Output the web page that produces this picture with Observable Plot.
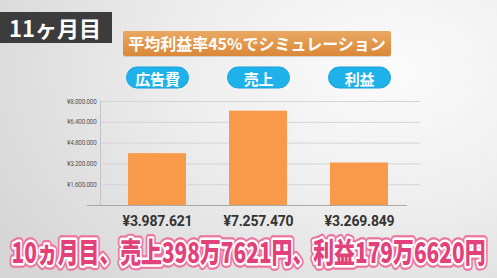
<!DOCTYPE html>
<html><head><meta charset="utf-8">
<script src="https://cdn.jsdelivr.net/npm/d3@7"></script>
<script src="https://cdn.jsdelivr.net/npm/@observablehq/plot@0.6"></script>
<style>
html,body{margin:0;padding:0;}
body{width:497px;height:278px;overflow:hidden;position:relative;
 background: radial-gradient(ellipse 90% 110% at 78% 25%, #fbfbfb 0%, #eeeeee 45%, #d6d6d6 100%);
 font-family:"Noto Sans CJK JP","Noto Sans",sans-serif;}
#month{position:absolute;left:0;top:12px;width:112px;height:31px;background:#3c3c3c;color:#fff;
 font-weight:bold;font-size:22px;line-height:31px;padding-left:9px;box-sizing:border-box;}
#title{position:absolute;left:123px;top:31px;width:268px;height:25px;
 background:linear-gradient(#eaa862,#d98838);border-radius:2px;color:#fff;font-weight:bold;font-size:16px;
 line-height:25px;text-align:center;box-shadow:0 1px 1px rgba(0,0,0,0.15);}
#chart{position:absolute;left:0;top:0;}
#cap{position:absolute;left:0;top:218px;}
#cap text{font-family:"Noto Sans CJK JP",sans-serif;font-weight:900;font-size:20px;}
</style></head>
<body>
<div id="month">11ヶ月目</div>
<div id="title">平均利益率45%でシミュレーション</div>
<div id="chart"></div>
<svg id="cap" width="497" height="60">
 <g transform="translate(0,45) scale(1,1.43)">
  <text x="248.5" y="0" text-anchor="middle" textLength="474" lengthAdjust="spacingAndGlyphs" fill="#ec74a0" stroke="#ec74a0" stroke-width="6.5" stroke-linejoin="round">10ヵ月目、売上398万7621円、利益179万6620円</text>
  <text x="248.5" y="0" text-anchor="middle" textLength="474" lengthAdjust="spacingAndGlyphs" fill="#fff" stroke="#fff" stroke-width="3.4" stroke-linejoin="round">10ヵ月目、売上398万7621円、利益179万6620円</text>
  <text x="248.5" y="0" text-anchor="middle" textLength="474" lengthAdjust="spacingAndGlyphs" fill="#e3417a">10ヵ月目、売上398万7621円、利益179万6620円</text>
 </g>
</svg>
<script>
const categories = ["広告費", "売上", "利益"];
const values = [3987621, 7257470, 3269849];
const yTicks = [1600000, 3200000, 4800000, 6400000, 8000000];

const data = categories.map((c, i) => ({cat: c, value: values[i]}));
const yen = d => "¥" + d3.format(",")(d).replace(/,/g, ".");

const pill = {
  draw(ctx) {
    const w = 31, h = 10.5, r = 10.5;
    ctx.moveTo(-w + r, -h);
    ctx.lineTo(w - r, -h);
    ctx.arc(w - r, 0, r, -Math.PI / 2, Math.PI / 2);
    ctx.lineTo(-w + r, h);
    ctx.arc(-w + r, 0, r, Math.PI / 2, 3 * Math.PI / 2);
    ctx.closePath();
  }
};

const plot = Plot.plot({
  width: 497,
  height: 278,
  marginTop: 101,
  marginBottom: 73,
  marginLeft: 100,
  marginRight: 77,
  style: {background: "transparent", fontFamily: "Roboto", fontSize: "6.3px", color: "#555", letterSpacing: "-0.2px"},
  x: {domain: categories, range: [96, 419], paddingInner: 0.43, paddingOuter: 0.3, axis: null},
  y: {domain: [0, 8000000], ticks: yTicks, tickFormat: yen, tickSize: 0, tickPadding: 4, label: null},
  marks: [
    Plot.ruleY(yTicks, {stroke: "#d4d4d4", strokeWidth: 1}),
    Plot.frame({anchor: "left", stroke: "#c4c4c4"}),
    Plot.barY(data, {x: "cat", y: "value", fill: "#f99a4a"}),
    Plot.ruleY([0], {stroke: "#a9a9a9", strokeWidth: 1.2, insetLeft: -13, insetRight: 13}),
    Plot.text(data, {x: "cat", y: 0, text: d => yen(d.value), dy: 16, fontSize: 14, fontWeight: "bold", fill: "#333", fontFamily: "Roboto", letterSpacing: "-0.4px"}),
    Plot.dot(data, {x: "cat", frameAnchor: "top", dy: -24, symbol: pill, fill: "#1fb2ea", stroke: "#17a2db", strokeWidth: 1}),
    Plot.text(data, {x: "cat", frameAnchor: "top", dy: -27, text: "cat", fill: "#fff", fontSize: 15, fontWeight: "bold", fontFamily: "Noto Sans CJK JP"})
  ]
});
document.getElementById("chart").appendChild(plot);
</script>
</body></html>
